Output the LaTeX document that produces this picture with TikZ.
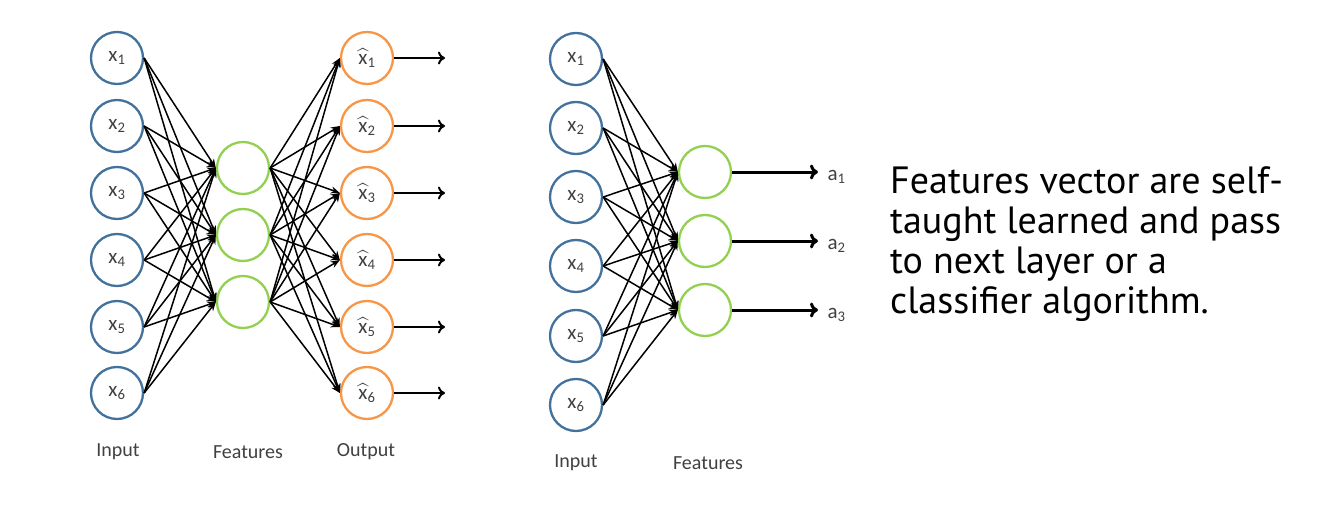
\documentclass[tikz,border=0pt]{standalone}
\usepackage{amsmath}
\usepackage{fontspec}
\setmainfont{Carlito}
\newfontfamily\bigfont{PT Sans}
\usetikzlibrary{arrows.meta}
\definecolor{inblue}{HTML}{41719C}
\definecolor{featgreen}{HTML}{92D050}
\definecolor{outorange}{HTML}{F79646}
\definecolor{labgray}{HTML}{404040}
\newcommand{\xsub}[1]{$\text{x}_{\text{#1}}$}
\newcommand{\xhat}[1]{$\widehat{\text{x}}_{\text{#1}}$}
\begin{document}
\begin{tikzpicture}[x=1pt,y=-1pt,
  neuron/.style={circle,minimum size=52pt,inner sep=0pt,line width=2.3pt,text=labgray,font=\fontsize{21}{24}\selectfont},
  inp/.style={neuron,draw=inblue},
  feat/.style={neuron,draw=featgreen},
  outp/.style={neuron,draw=outorange},
  edge/.style={line width=1.5pt,-{Stealth[length=9pt,width=7pt]}},
  outarrow/.style={line width=2pt,-{To[length=7pt,width=13pt,line width=2pt]}},
  outarrowb/.style={line width=3pt,-{To[length=8pt,width=15pt]}},
  layerlab/.style={text=labgray,font=\fontsize{20}{22}\selectfont},
  alab/.style={text=labgray,font=\fontsize{21}{24}\selectfont}]
\useasboundingbox (0,0) rectangle (1330,508);

% ---- left autoencoder ----
\foreach \i/\y in {1/58,2/126,3/193,4/260,5/327,6/393}{
  \node[inp] (la\i) at (117,\y) {\xsub{\i}};
  \node[outp] (lo\i) at (367,\y) {\xhat{\i}};
  \coordinate (le\i) at (445,\y);
}
\foreach \j/\y in {1/168,2/235,3/302}{
  \node[feat] (lf\j) at (243,\y) {};
}
\foreach \i in {1,...,6}{
  \foreach \j in {1,2,3}{
    \draw[edge] (la\i.east) -- (lf\j.west);
    \draw[edge] (lf\j.east) -- (lo\i.west);
  }
  \draw[outarrow] (lo\i.east) -- (le\i);
}
\node[layerlab] (lin) at (118,452) {Input};
\node[layerlab] (lfe) at (248,452) {Features};
\node[layerlab] (lou) at (366,452) {Output};

% ---- right encoder ----
\foreach \i/\y in {1/59,2/128,3/197,4/266,5/336,6/405}{
  \node[inp] (ra\i) at (576,\y) {\xsub{\i}};
}
\foreach \j/\y in {1/172,2/241,3/310}{
  \node[feat] (rf\j) at (705,\y) {};
  \coordinate (re\j) at (818,\y);
  \node[alab,anchor=west] (ral\j) at (824,\y+5) {$\text{a}_{\text{\j}}$};
  \draw[outarrowb] (rf\j.east) -- (re\j);
}
\foreach \i in {1,...,6}{
  \foreach \j in {1,2,3}{
    \draw[edge] (ra\i.east) -- (rf\j.west);
  }
}
\node[layerlab] (rin) at (576,463) {Input};
\node[layerlab] (rfe) at (708,463) {Features};

% ---- text ----
\node[anchor=north west,align=left,inner sep=0pt,font=\bigfont\fontsize{38}{40}\selectfont] (txt) at (890,166)
  {Features vector are self-\\taught learned and pass\\to next layer or a\\classifier algorithm.};
\end{tikzpicture}
\end{document}
